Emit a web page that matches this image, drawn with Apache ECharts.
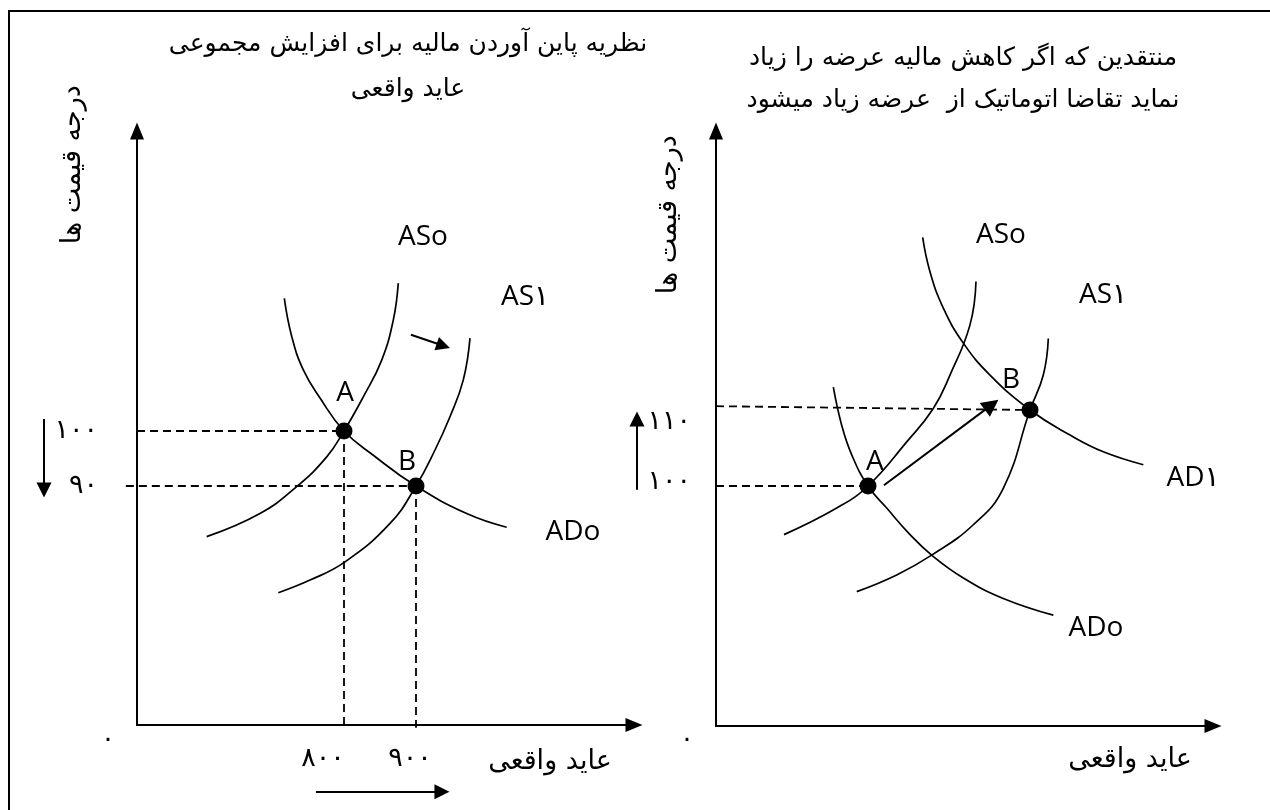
<!DOCTYPE html>
<html><head><meta charset="utf-8">
<script src="https://cdn.jsdelivr.net/npm/echarts@6/dist/echarts.min.js"></script>
<style>html,body{margin:0;padding:0;background:#fff}#c{width:1270px;height:810px}</style>
</head><body><div id="c"></div>
<script>
// ---------- text ----------
const title1 = 'نظریه پاین آوردن مالیه برای افزایش مجموعی\nعاید واقعی';
const title2 = 'منتقدین که اگر کاهش مالیه عرضه را زیاد\nنماید تقاضا اتوماتیک از  عرضه زیاد میشود';
const yName = 'درجه قیمت ها';
const xName = 'عاید واقعی';

// ---------- panel 1 (left) ----------
const xRange1 = [512.5, 1202.8];
const yRange1 = [46.55, 154.55];
const xTicks1 = [800, 900];
const yTicks1 = [100, 90];
const asZero1 = [[875.4,126.9],[868.5,120.2],[852.4,112.9],[826.8,106.2],[800,100],[776,95.3],[734.3,89.9],[683.3,85],[609.3,80.8]];
const adZero1 = [[717.1,124.1],[727.4,117.2],[743.5,111.1],[766.7,106],[800,100],[840.7,95.6],[900,90],[970.4,85],[1026,82.5]];
const asOne1 = [[975,116.9],[965.7,109.3],[947.2,102.6],[926.4,96.55],[900,90],[863.9,83.2],[801.4,76.2],[752.8,72.9],[708.8,70.6]];
const eq1 = [[800,100],[900,90]];
const shiftArrow1 = [[893,117.5],[938,115.5]];
const priceArrow1 = [[383.3,102.2],[383.3,89.3]];
const incomeArrow1 = [[761,34.4],[936,34.4]];
const labelText1 = ['ASo','AS١','A','B','ADo'];
const labelPos1 = [[909.7,135.3],[1051.4,124.4],[801.4,106.9],[887.5,94.4],[1118,81.6]];

// ---------- panel 2 (right) ----------
const xRange2 = [612.35, 1225.9];
const yRange2 = [68.42, 146.71];
const yTicks2 = [110, 100];
const adZero2 = [[757.2,113],[767.5,108],[779.9,104.1],[800,100],[823.1,97.1],[851.9,93.6],[878.6,90.9],[917.7,87.9],[967,85.2],[1028.8,83]];
const asZero2 = [[933.3,126.9],[925.9,121.2],[901.2,114.6],[880.6,110.2],[847.8,105.8],[800,100],[761.4,97.1],[696.3,93.6]];
const asOne2 = [[1022.6,119.4],[1016.4,114.6],[1000,110],[967,99.7],[930,94.9],[878.6,90.9],[835.4,88.3],[786.1,86.1]];
const adOne2 = [[867.5,132.7],[876.5,128.2],[893,123.4],[917.7,118.8],[950.6,114.6],[1000,110],[1049.4,106.7],[1090.5,104.5],[1139.9,102.8]];
const eq2 = [[800,100],[1000,110]];
const shiftArrow2 = [[819.7,100.1],[952.6,110.68]];
const priceArrow2 = [[514.8,99.5],[514.8,108.8]];
const labelText2 = ['ASo','AS١','A','B','AD١','ADo'];
const labelPos2 = [[964.2,133.0],[1090.1,125.1],[808.6,103.2],[976.6,114.0],[1201.2,101.1],[1081.5,81.3]];

// ---------- helpers ----------
const AR = '٠١٢٣٤٥٦٧٨٩';
const toAr = n => String(n).replace(/\d/g, d => AR[d]);
const FONT = 'DejaVu Sans';
const LATIN = 'Open Sans, DejaVu Sans';
const black = '#000';

function axisOf(gi, r, labels) {
  return {
    type: 'value', gridIndex: gi, min: r[0], max: r[1],
    axisLine: {show: true, onZero: false, symbol: ['none', 'triangle'], symbolSize: [14, 17], lineStyle: {color: black, width: 2}},
    axisTick: {show: false}, splitLine: {show: false},
    axisLabel: labels
  };
}
function curve(gi, data) {
  return {type: 'line', xAxisIndex: gi, yAxisIndex: gi, data: data, smooth: 0.45, symbol: 'none',
    lineStyle: {color: black, width: 1.7}, silent: true, z: 3};
}
function dashed(gi, segs) {
  return {type: 'lines', coordinateSystem: 'cartesian2d', xAxisIndex: gi, yAxisIndex: gi, clip: false,
    data: segs.map(s => ({coords: s})), symbol: 'none',
    lineStyle: {color: black, width: 1.8, type: [8, 5], opacity: 1}, z: 2, silent: true};
}
function arrows(gi, segs, size) {
  return {type: 'lines', coordinateSystem: 'cartesian2d', xAxisIndex: gi, yAxisIndex: gi, clip: false,
    data: segs.map(s => ({coords: s})), symbol: ['none', 'triangle'], symbolSize: size,
    lineStyle: {color: black, width: 2, opacity: 1, curveness: 0}, z: 4, silent: true};
}
function dots(gi, pts) {
  return {type: 'scatter', xAxisIndex: gi, yAxisIndex: gi, data: pts, symbol: 'circle', symbolSize: 17,
    itemStyle: {color: black, opacity: 1}, z: 5, silent: true};
}
function texts(gi, items) {
  return {type: 'scatter', xAxisIndex: gi, yAxisIndex: gi, clip: false, symbol: 'circle', symbolSize: 1,
    itemStyle: {color: 'rgba(0,0,0,0)', opacity: 1}, silent: true, z: 6,
    data: items,
    label: {show: true, position: 'inside', formatter: '{b}', color: black, opacity: 1, fontSize: 28, fontFamily: LATIN}};
}
const mk = (txt, pos, extra) => Object.assign({name: txt, value: pos}, extra || {});

const arLabel = {fontSize: 27, fontFamily: FONT, color: black};

const option = {
  animation: false,
  backgroundColor: '#fff',
  title: [
    {text: title1, left: 408, top: 22, textAlign: 'center', padding: 0,
     textStyle: {fontSize: 25, lineHeight: 45, fontWeight: 'normal', fontFamily: FONT, color: black}},
    {text: title2, left: 963, top: 37, textAlign: 'center', padding: 0,
     textStyle: {fontSize: 25, lineHeight: 42, fontWeight: 'normal', fontFamily: FONT, color: black}}
  ],
  graphic: [{type: 'polyline', shape: {points: [[9, 812], [9, 11], [1275, 11]]},
    style: {stroke: black, lineWidth: 2, fill: null}, silent: true}],
  grid: [
    {left: 137, top: 131, width: 497, height: 594},
    {left: 716, top: 131, width: 497, height: 595}
  ],
  xAxis: [
    axisOf(0, xRange1, {show: true, customValues: xTicks1, margin: 20,
      formatter: v => v === xTicks1[0] ? '{a|' + toAr(v) + '}' : '{b|' + toAr(v) + '}',
      rich: {a: Object.assign({padding: [0, 42, 0, 0]}, arLabel), b: Object.assign({padding: [0, 12, 0, 0]}, arLabel)}}),
    axisOf(1, xRange2, {show: false})
  ],
  yAxis: [
    axisOf(0, yRange1, Object.assign({show: true, customValues: yTicks1, margin: 39, formatter: v => toAr(v)}, arLabel)),
    axisOf(1, yRange2, {show: true, customValues: yTicks2, margin: 25,
      formatter: v => v === yTicks2[0] ? '{a|' + toAr(v) + '}' : '{b|' + toAr(v) + '}',
      rich: {a: Object.assign({padding: [24, 0, 0, 0]}, arLabel), b: Object.assign({padding: [0, 0, 8, 0]}, arLabel)}})
  ],
  series: [
    curve(0, asZero1), curve(0, adZero1), curve(0, asOne1),
    dashed(0, [
      [[xRange1[0], eq1[0][1]], eq1[0]],
      [[497, eq1[1][1]], eq1[1]],
      [eq1[0], [eq1[0][0], yRange1[0] - 0.5]],
      [eq1[1], [eq1[1][0], yRange1[0] - 0.5]]
    ]),
    dots(0, eq1),
    arrows(0, [shiftArrow1], [13, 14]),
    arrows(0, [priceArrow1, incomeArrow1], [14, 15]),
    texts(0, labelText1.map((t, i) => mk(t, labelPos1[i])).concat([
      mk(toAr(0), [472.2, 43.8], {label: {fontFamily: FONT, fontSize: 26}}),
      mk(xName, [1086.1, 39.8], {label: {fontFamily: FONT, fontSize: 27}}),
      mk(yName, [423.6, 148.4], {label: {fontFamily: FONT, fontSize: 27, rotate: 90}})
    ])),

    curve(1, adZero2), curve(1, asZero2), curve(1, asOne2), curve(1, adOne2),
    dashed(1, [
      [[xRange2[0], 110.5], eq2[1]],
      [[xRange2[0], eq2[0][1]], eq2[0]]
    ]),
    dots(1, eq2),
    arrows(1, [shiftArrow2], [15, 17]),
    arrows(1, [priceArrow2], [14, 15]),
    texts(1, labelText2.map((t, i) => mk(t, labelPos2[i])).concat([
      mk(toAr(0), [576.5, 66.6], {label: {fontFamily: FONT, fontSize: 26}}),
      mk(xName, [1123.5, 63.9], {label: {fontFamily: FONT, fontSize: 27}}),
      mk(yName, [554.3, 135.7], {label: {fontFamily: FONT, fontSize: 27, rotate: 90}})
    ]))
  ]
};
const chart = echarts.init(document.getElementById('c'), null, {renderer: 'canvas'});
chart.setOption(option);
</script></body></html>
